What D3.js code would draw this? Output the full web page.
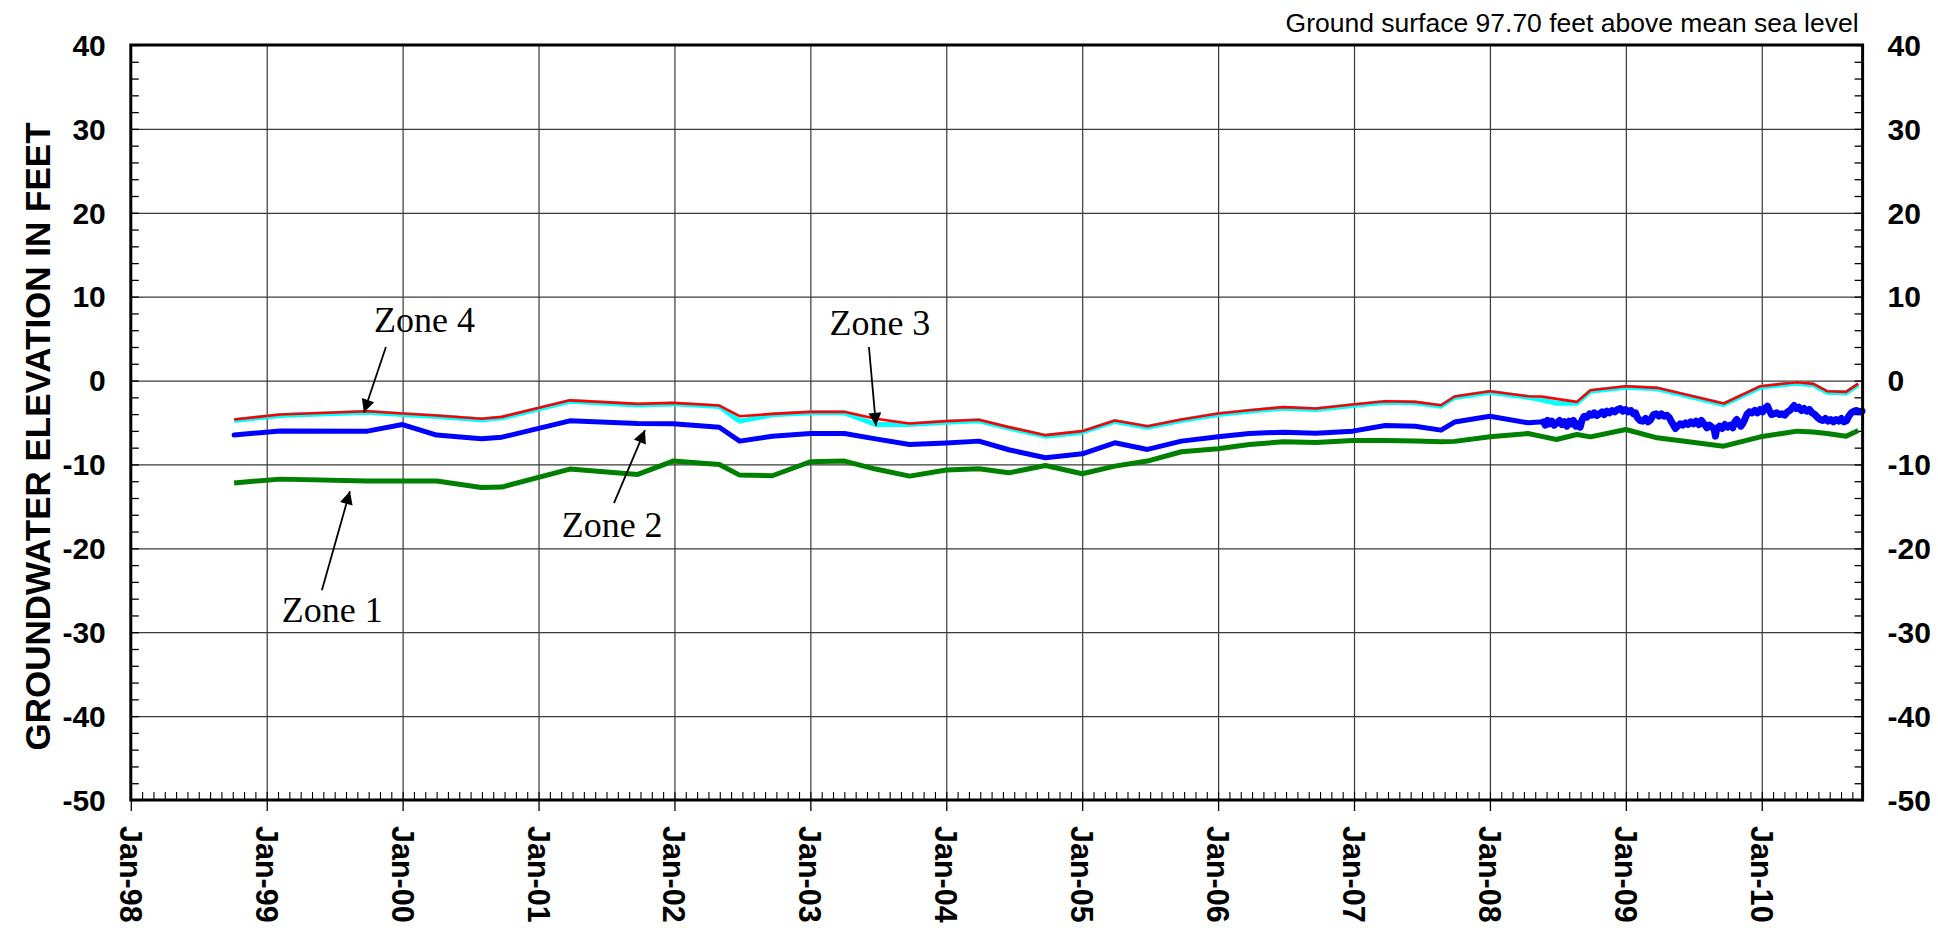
<!DOCTYPE html>
<html>
<head>
<meta charset="utf-8">
<script src="https://cdn.jsdelivr.net/npm/d3@7"></script>
<style>
  html, body { margin: 0; padding: 0; background: #fff; }
  svg { display: block; }
</style>
</head>
<body>
<svg id="chart" width="1938" height="928"></svg>
<script>
// ---------------- DATA ----------------
const xTickYears  = [1998, 1999, 2000, 2001, 2002, 2003, 2004, 2005, 2006, 2007, 2008, 2009, 2010];
const xTickLabels = ["Jan-98","Jan-99","Jan-00","Jan-01","Jan-02","Jan-03","Jan-04","Jan-05","Jan-06","Jan-07","Jan-08","Jan-09","Jan-10"];
const yTicks = [-50, -40, -30, -20, -10, 0, 10, 20, 30, 40];
const xDomain = [1998, 2010.742];
const yDomain = [-50, 40];
const groundNote = "Ground surface 97.70 feet above mean sea level";
const yTitle = "GROUNDWATER ELEVATION IN FEET";

// sampling dates (decimal years)
const sampleYears = [1998.76, 1999.10, 1999.74, 2000.00, 2000.25, 2000.58, 2000.73, 2001.23, 2001.73, 2001.99,
  2002.33, 2002.48, 2002.72, 2003.00, 2003.25, 2003.48, 2003.73, 2004.00, 2004.24, 2004.46,
  2004.73, 2005.00, 2005.24, 2005.48, 2005.73, 2006.00, 2006.23, 2006.48, 2006.72, 2006.99,
  2007.23, 2007.45, 2007.64, 2007.74, 2008.00, 2008.28, 2008.38, 2008.49, 2008.64, 2008.74,
  2009.00, 2009.23, 2009.72, 2009.99, 2010.26, 2010.38, 2010.48, 2010.62, 2010.71];

const zone4 = [-4.64, -4.05, -3.65, -3.93, -4.17, -4.56, -4.33, -2.36, -2.78, -2.66,
  -2.98, -4.25, -3.97, -3.73, -3.73, -4.56, -5.12, -4.84, -4.68, -5.55,
  -6.51, -6.03, -4.76, -5.44, -4.64, -3.93, -3.53, -3.17, -3.33, -2.86,
  -2.46, -2.54, -2.94, -1.90, -1.27, -1.87, -1.90, -2.18, -2.54, -1.15,
  -0.67, -0.87, -2.74, -0.67, -0.20, -0.40, -1.27, -1.35, -0.36];

const zone3 = [-4.76, -4.17, -3.77, -4.05, -4.29, -4.68, -4.45, -2.48, -2.90, -2.78,
  -3.10, -4.84, -4.09, -3.85, -3.85, -5.24, -5.24, -4.96, -4.80, -5.67,
  -6.63, -6.15, -4.88, -5.56, -4.76, -4.05, -3.65, -3.29, -3.45, -2.98,
  -2.58, -2.66, -3.06, -2.02, -1.39, -1.99, -2.30, -2.70, -2.70, -1.27,
  -0.79, -0.99, -2.86, -0.79, -0.32, -0.52, -1.39, -1.47, -0.48];

const zone1 = [-12.20, -11.75, -11.98, -11.98, -11.98, -12.74, -12.70, -10.55, -11.19, -9.60,
  -10.00, -11.27, -11.35, -9.68, -9.60, -10.55, -11.39, -10.67, -10.52, -11.00,
  -10.12, -11.11, -10.20, -9.60, -8.49, -8.13, -7.62, -7.30, -7.38, -7.14,
  -7.14, -7.22, -7.30, -7.25, -6.71, -6.31, -6.65, -7.02, -6.43, -6.71,
  -5.83, -6.83, -7.82, -6.71, -6.03, -6.12, -6.30, -6.63, -5.95];

// Zone 2 manual readings (first 36 sampling dates)
const zone2Manual = [-6.50, -6.00, -6.03, -5.24, -6.50, -6.94, -6.75, -4.80, -5.12, -5.16,
  -5.56, -7.22, -6.63, -6.31, -6.31, -6.95, -7.62, -7.45, -7.22, -8.25,
  -9.20, -8.73, -7.42, -8.21, -7.22, -6.71, -6.31, -6.15, -6.27, -6.03,
  -5.36, -5.44, -5.91, -4.95, -4.25, -5.04];

// Zone 2 transducer record (decimal years / feet)
const zone2LoggerYears = [2008.395, 2008.407, 2008.424, 2008.439, 2008.456, 2008.473, 2008.493, 2008.512, 2008.529, 2008.547,
  2008.566, 2008.583, 2008.601, 2008.615, 2008.632, 2008.650, 2008.664, 2008.679, 2008.694, 2008.713,
  2008.733, 2008.750, 2008.767, 2008.787, 2008.806, 2008.826, 2008.841, 2008.860, 2008.880, 2008.900,
  2008.919, 2008.939, 2008.958, 2008.978, 2008.998, 2009.017, 2009.037, 2009.056, 2009.071, 2009.086,
  2009.105, 2009.125, 2009.145, 2009.164, 2009.184, 2009.203, 2009.223, 2009.243, 2009.262, 2009.282,
  2009.302, 2009.321, 2009.336, 2009.351, 2009.365, 2009.380, 2009.400, 2009.419, 2009.439, 2009.458,
  2009.478, 2009.498, 2009.517, 2009.537, 2009.556, 2009.576, 2009.596, 2009.615, 2009.635, 2009.650,
  2009.659, 2009.669, 2009.689, 2009.708, 2009.728, 2009.748, 2009.767, 2009.787, 2009.802, 2009.816,
  2009.831, 2009.846, 2009.860, 2009.875, 2009.890, 2009.909, 2009.929, 2009.949, 2009.968, 2009.988,
  2010.007, 2010.027, 2010.042, 2010.056, 2010.071, 2010.091, 2010.110, 2010.130, 2010.150, 2010.169,
  2010.189, 2010.208, 2010.223, 2010.238, 2010.253, 2010.272, 2010.292, 2010.311, 2010.331, 2010.351,
  2010.370, 2010.390, 2010.409, 2010.429, 2010.449, 2010.468, 2010.488, 2010.507, 2010.527, 2010.547,
  2010.566, 2010.586, 2010.605, 2010.625, 2010.640, 2010.659, 2010.679, 2010.699, 2010.718, 2010.738];
const zone2LoggerValues = [-4.92, -5.32, -4.76, -5.16, -4.84, -5.32, -5.04, -4.76, -5.24, -4.92,
  -5.44, -4.84, -5.16, -4.76, -5.44, -5.16, -5.56, -4.64, -4.25, -4.37,
  -3.97, -4.13, -3.85, -4.17, -3.97, -3.73, -4.05, -3.65, -3.85, -3.57,
  -3.73, -3.45, -3.33, -3.65, -3.45, -3.73, -3.57, -3.97, -3.85, -4.44,
  -4.76, -4.84, -4.52, -4.92, -4.64, -4.05, -3.97, -4.25, -3.97, -4.25,
  -4.13, -4.44, -4.92, -5.32, -5.71, -5.44, -5.16, -5.32, -5.04, -5.24,
  -4.92, -5.16, -4.84, -5.24, -4.76, -5.16, -5.63, -5.32, -5.56, -5.83,
  -6.63, -5.71, -5.44, -5.71, -5.24, -5.56, -5.32, -5.63, -4.92, -4.64,
  -5.04, -5.44, -5.16, -4.64, -4.05, -3.73, -3.85, -3.57, -3.85, -3.45,
  -3.73, -3.25, -3.06, -3.57, -4.05, -3.97, -3.85, -4.05, -3.97, -4.13,
  -3.73, -3.57, -3.25, -2.98, -3.33, -3.17, -3.57, -3.33, -3.65, -3.45,
  -3.85, -4.05, -4.37, -4.64, -4.76, -4.52, -4.84, -4.64, -4.92, -4.64,
  -4.84, -4.52, -4.92, -4.76, -4.25, -3.85, -3.65, -3.57, -3.73, -3.65];

// annotations (label anchor and arrow from/to in data units)
const annoLabels = ["Zone 4", "Zone 3", "Zone 2", "Zone 1"];
const annoTextPos = [[1999.79, 5.8], [2003.14, 5.4], [2001.17, -18.65], [1999.11, -28.8]];
const annoArrowFrom = [[1999.877, 4.0], [2003.431, 4.0], [2001.555, -14.6], [1999.406, -25.0]];
const annoArrowTo = [[1999.715, -3.8], [2003.483, -5.4], [2001.783, -5.9], [1999.612, -13.2]];

// ---------------- LAYOUT ----------------
const L = 130.8, R = 1862.6, T = 45, B = 800;
const svg = d3.select("#chart");
const x = d3.scaleLinear().domain(xDomain).range([L, R]);
const y = d3.scaleLinear().domain(yDomain).range([B, T]);
const gridColor = "#3a3a3a";

// vertical gridlines
svg.append("g").attr("transform", `translate(0,${B})`)
  .call(d3.axisBottom(x).tickValues(xTickYears).tickSize(-(B - T)).tickFormat(""))
  .call(g => g.select(".domain").remove())
  .call(g => g.selectAll("line").attr("stroke", gridColor).attr("stroke-width", 1.2));

// horizontal gridlines
svg.append("g").attr("transform", `translate(${L},0)`)
  .call(d3.axisLeft(y).tickValues(yTicks).tickSize(-(R - L)).tickFormat(""))
  .call(g => g.select(".domain").remove())
  .call(g => g.selectAll("line").attr("stroke", gridColor).attr("stroke-width", 1.2));

// minor ticks Y (every 2 ft), inside on both sides
const yMinor = d3.range(yDomain[0], yDomain[1] + 0.001, 2);
svg.append("g").attr("transform", `translate(${L},0)`)
  .call(d3.axisRight(y).tickValues(yMinor).tickSize(8).tickFormat(""))
  .call(g => g.select(".domain").remove())
  .call(g => g.selectAll("line").attr("stroke", "#000").attr("stroke-width", 1.3));
svg.append("g").attr("transform", `translate(${R},0)`)
  .call(d3.axisLeft(y).tickValues(yMinor).tickSize(8).tickFormat(""))
  .call(g => g.select(".domain").remove())
  .call(g => g.selectAll("line").attr("stroke", "#000").attr("stroke-width", 1.3));

// minor ticks X (monthly), inside
const xMinor = d3.range(0, Math.floor((xDomain[1] - xDomain[0]) * 12) + 1).map(m => xDomain[0] + m / 12);
svg.append("g").attr("transform", `translate(0,${B})`)
  .call(d3.axisTop(x).tickValues(xMinor).tickSize(8).tickFormat(""))
  .call(g => g.select(".domain").remove())
  .call(g => g.selectAll("line").attr("stroke", "#000").attr("stroke-width", 1.1));
// major ticks X, outside
svg.append("g").attr("transform", `translate(0,${B})`)
  .call(d3.axisBottom(x).tickValues(xTickYears).tickSize(11).tickFormat(""))
  .call(g => g.select(".domain").remove())
  .call(g => g.selectAll("line").attr("stroke", "#000").attr("stroke-width", 1.3));

// ---------------- LINES ----------------
const line = d3.line().x(d => x(d[0])).y(d => y(d[1]));
const z4 = sampleYears.map((t, i) => [t, zone4[i]]);
const z3 = sampleYears.map((t, i) => [t, zone3[i]]);
const z1 = sampleYears.map((t, i) => [t, zone1[i]]);
const z2 = zone2Manual.map((v, i) => [sampleYears[i], v])
  .concat(zone2LoggerYears.map((t, i) => [t, zone2LoggerValues[i]]));

svg.append("path").datum(z1).attr("d", line).attr("fill", "none")
  .attr("stroke", "#008000").attr("stroke-width", 5).attr("stroke-linejoin", "round");
svg.append("path").datum(z2).attr("d", line).attr("fill", "none")
  .attr("stroke", "#0000ff").attr("stroke-width", 5).attr("stroke-linejoin", "round").attr("stroke-linecap", "round");
svg.append("path").datum(z2.slice(zone2Manual.length)).attr("d", line).attr("fill", "none")
  .attr("stroke", "#0000ff").attr("stroke-width", 7).attr("stroke-linejoin", "round").attr("stroke-linecap", "round");
svg.append("path").datum(z3).attr("d", line).attr("fill", "none")
  .attr("stroke", "#00ffff").attr("stroke-width", 5).attr("stroke-linejoin", "round");
svg.append("path").datum(z4).attr("d", line).attr("fill", "none")
  .attr("stroke", "#ff0000").attr("stroke-width", 2.6).attr("stroke-linejoin", "round");

// ---------------- FRAME ----------------
svg.append("rect").attr("x", L).attr("y", T).attr("width", R - L).attr("height", B - T)
  .attr("fill", "none").attr("stroke", "#000").attr("stroke-width", 3);

// ---------------- AXIS LABELS ----------------
const labelFont = "'Liberation Sans', Arial, sans-serif";
svg.append("g").selectAll("text").data(yTicks).join("text")
  .attr("x", L - 25).attr("y", d => y(d)).attr("dy", "0.36em")
  .attr("text-anchor", "end").attr("font-family", labelFont).attr("font-weight", "bold")
  .attr("font-size", 30).text(d => d);
svg.append("g").selectAll("text").data(yTicks).join("text")
  .attr("x", R + 25).attr("y", d => y(d)).attr("dy", "0.36em")
  .attr("text-anchor", "start").attr("font-family", labelFont).attr("font-weight", "bold")
  .attr("font-size", 30).text(d => d);

svg.append("g").selectAll("text").data(xTickYears).join("text")
  .attr("transform", d => `translate(${x(d)},${B + 26}) rotate(90)`)
  .attr("dy", "0.36em").attr("text-anchor", "start")
  .attr("font-family", labelFont).attr("font-weight", "bold").attr("font-size", 30.5)
  .text((d, i) => xTickLabels[i]);

svg.append("text")
  .attr("transform", `translate(37,${(T + B) / 2 + 14}) rotate(-90)`)
  .attr("dy", "0.36em").attr("text-anchor", "middle")
  .attr("font-family", labelFont).attr("font-weight", "bold").attr("font-size", 35)
  .text(yTitle);

svg.append("text").attr("x", R - 4).attr("y", 32).attr("text-anchor", "end")
  .attr("font-family", labelFont).attr("font-size", 26.5).text(groundNote);

// ---------------- ANNOTATIONS ----------------
const defs = svg.append("defs");
defs.append("marker").attr("id", "ah").attr("viewBox", "0 0 10 10")
  .attr("refX", 10).attr("refY", 5).attr("markerWidth", 18).attr("markerHeight", 13)
  .attr("markerUnits", "userSpaceOnUse").attr("orient", "auto")
  .append("path").attr("d", "M0,0 L10,5 L0,10 Z").attr("fill", "#000");

const ann = svg.append("g");
annoLabels.forEach((lab, i) => {
  ann.append("text").attr("x", x(annoTextPos[i][0])).attr("y", y(annoTextPos[i][1]))
    .attr("font-family", "'Liberation Serif', 'Times New Roman', serif").attr("font-size", 36)
    .text(lab);
  ann.append("line")
    .attr("x1", x(annoArrowFrom[i][0])).attr("y1", y(annoArrowFrom[i][1]))
    .attr("x2", x(annoArrowTo[i][0])).attr("y2", y(annoArrowTo[i][1]))
    .attr("stroke", "#000").attr("stroke-width", 1.8).attr("marker-end", "url(#ah)");
});
</script>
</body>
</html>
